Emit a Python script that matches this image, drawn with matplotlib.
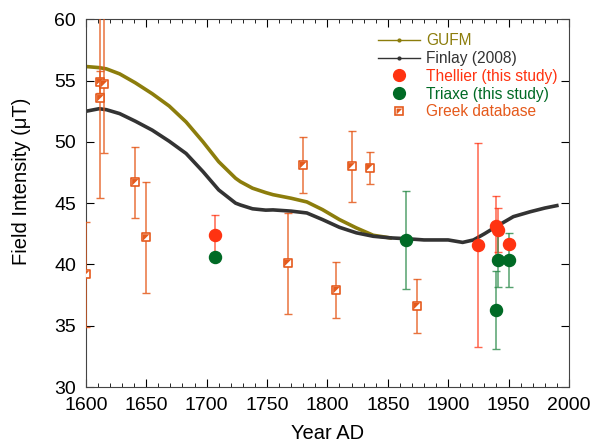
import matplotlib.pyplot as plt
import numpy as np
from matplotlib.lines import Line2D

plt.rcParams['font.family'] = ['Liberation Sans', 'DejaVu Sans']

# geomagnetic field models
gufm_year = [1600, 1611, 1617, 1628, 1641, 1655, 1669, 1683, 1697, 1710, 1724, 1728,
             1738, 1749, 1755, 1770, 1783, 1796, 1810, 1824, 1838, 1852]
gufm_F = [56.14, 56.05, 55.95, 55.54, 54.81, 53.92, 52.92, 51.62, 50.0, 48.38, 47.03, 46.75,
          46.22, 45.86, 45.69, 45.4, 45.1, 44.47, 43.66, 42.98, 42.38, 42.17]

finlay_year = [1600, 1611, 1617, 1628, 1641, 1655, 1669, 1683, 1697, 1710, 1724, 1728,
               1738, 1749, 1755, 1770, 1783, 1796, 1810, 1824, 1838, 1852, 1866, 1880,
               1900, 1912, 1921, 1930, 1940, 1954, 1968, 1980, 1990]
finlay_F = [52.49, 52.7, 52.62, 52.3, 51.68, 50.95, 50.05, 49.05, 47.57, 46.08, 45.0, 44.85,
            44.54, 44.43, 44.45, 44.35, 44.2, 43.66, 43.03, 42.58, 42.3, 42.17, 42.1, 42.0,
            42.0, 41.8, 42.0, 42.5, 43.1, 43.9, 44.3, 44.6, 44.8]

# this study
thellier_year = [1707, 1925, 1939.5, 1941, 1950]
thellier_F = [42.4, 41.6, 43.1, 42.8, 41.7]
thellier_err = [1.6, 8.3, 2.5, 1.8, 0.3]

triaxe_year = [1707, 1865.5, 1939.5, 1941, 1950]
triaxe_F = [40.6, 42.0, 36.3, 40.4, 40.4]
triaxe_err = [0.0, 4.0, 3.2, 2.2, 2.2]

# Greek database
greek_year = [1600, 1611.5, 1612, 1615, 1641, 1650, 1767, 1780, 1807.5, 1820, 1835, 1874]
greek_F = [39.2, 54.9, 53.55, 54.7, 46.7, 42.2, 40.1, 48.1, 37.9, 48.0, 47.9, 36.6]
greek_err = [4.3, 0.9, 8.15, 5.6, 2.9, 4.5, 4.1, 2.3, 2.3, 2.9, 1.3, 2.2]

c_gufm = '#8c7d0c'
c_finlay = '#333333'
c_thel = '#ff3311'
c_tri = '#006a25'
c_greek = '#e55a1c'

fig, ax = plt.subplots(figsize=(5.92, 4.46), dpi=100)
fig.subplots_adjust(left=0.145, right=0.961, bottom=0.132, top=0.957)

ax.plot(gufm_year, gufm_F, color=c_gufm, lw=2.6, solid_joinstyle='round', zorder=2)
ax.plot(finlay_year, finlay_F, color=c_finlay, lw=2.6, solid_joinstyle='round', zorder=2)

ax.errorbar(greek_year, greek_F, yerr=greek_err, fmt='none', ecolor=c_greek, elinewidth=1.1,
            capsize=3, capthick=1.0, alpha=0.85, zorder=3)
ax.errorbar(thellier_year, thellier_F, yerr=thellier_err, fmt='none', ecolor=c_thel,
            elinewidth=1.1, capsize=3, capthick=1.0, alpha=0.75, zorder=3)
ax.errorbar(triaxe_year, triaxe_F, yerr=triaxe_err, fmt='none', ecolor='#2a8a4a',
            elinewidth=1.1, capsize=3, capthick=1.0, alpha=0.8, zorder=3)

# half-filled square markers
tri_ul = [(-1, -1), (-1, 1), (1, 1), (-1, -1)]
ax.scatter(greek_year, greek_F, marker='s', s=40, facecolor='white', edgecolor=c_greek,
           linewidth=1.2, zorder=4)
ax.scatter(greek_year, greek_F, marker=tri_ul, s=22, facecolor=c_greek, edgecolor='none',
           zorder=5)
ax.scatter(thellier_year, thellier_F, s=75, color=c_thel, zorder=6)
ax.scatter(triaxe_year, triaxe_F, s=75, color=c_tri, zorder=6)

ax.set_xlim(1600, 2000)
ax.set_ylim(30, 60)
ax.set_xticks(np.arange(1600, 2001, 50))
ax.set_xticks(np.arange(1600, 2001, 10), minor=True)
ax.set_yticks(np.arange(30, 61, 5))
ax.tick_params(which='both', direction='in', top=True, right=True, labelsize=14)
ax.tick_params(which='major', length=6)
ax.tick_params(which='minor', length=3)
ax.tick_params(axis='x', pad=7)
ax.tick_params(axis='y', pad=7)
for s in ax.spines.values():
    s.set_color('#444444')
ax.set_xlabel('Year AD', fontsize=14.5, labelpad=7)
ax.set_ylabel('Field Intensity (\u03bcT)', fontsize=14.5)
ax.yaxis.set_label_coords(-0.113, 0.56)

greek_handle = (
    Line2D([], [], color=c_greek, ls='none', marker='s', ms=6, mfc='white', mew=1.2),
    Line2D([], [], color=c_greek, ls='none', marker=tri_ul, ms=4.2, mew=0),
)
handles = [
    Line2D([], [], color=c_gufm, lw=1, marker='.', ms=4),
    Line2D([], [], color=c_finlay, lw=1, marker='.', ms=4),
    Line2D([], [], color=c_thel, ls='none', marker='o', ms=8.5),
    Line2D([], [], color=c_tri, ls='none', marker='o', ms=8.5),
    greek_handle,
]
labels = ['GUFM', 'Finlay (2008)', 'Thellier (this study)', 'Triaxe (this study)', 'Greek database']
leg = ax.legend(handles, labels, loc='upper left', bbox_to_anchor=(0.575, 1.0), frameon=False,
                fontsize=11.2, handlelength=2.7, handletextpad=0.4, labelspacing=0.18)
for t, c in zip(leg.get_texts(), [c_gufm, c_finlay, c_thel, c_tri, c_greek]):
    t.set_color(c)

fig.savefig('out.png', dpi=100)
